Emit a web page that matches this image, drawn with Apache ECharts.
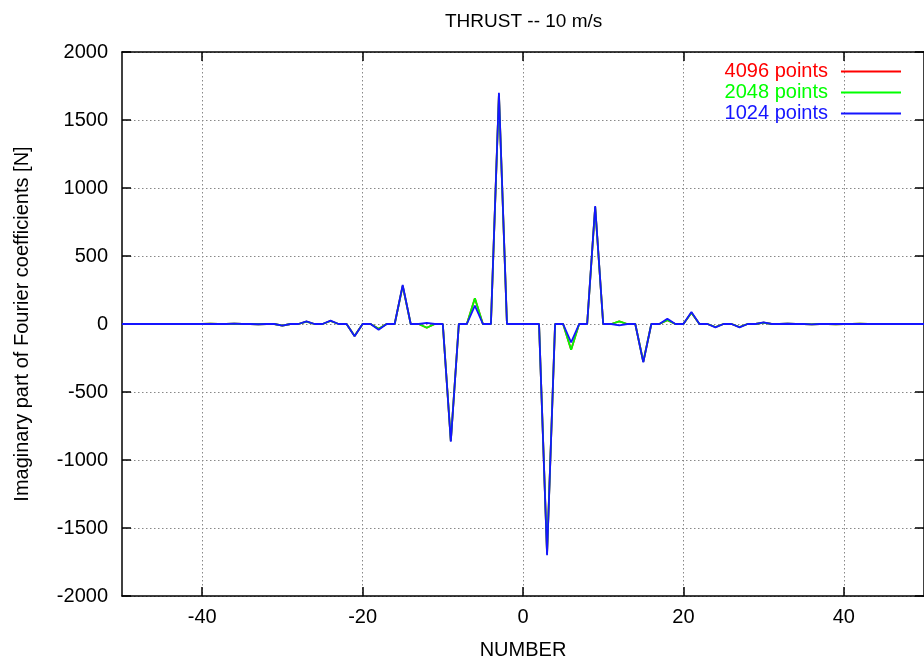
<!DOCTYPE html>
<html>
<head>
<meta charset="utf-8">
<script src="https://cdn.jsdelivr.net/npm/echarts@6/dist/echarts.min.js"></script>
<style>
html,body{margin:0;padding:0;background:#fff;}
#chart{width:924px;height:668px;}
</style>
</head>
<body>
<div id="chart"></div>
<script>
// Harmonic number axis
var xStart = -50, xEnd = 50;
var xTickValues = [-40, -20, 0, 20, 40];
var seriesNames = ['4096 points', '2048 points', '1024 points'];
var seriesColors = ['#ff0000', '#00ff00', '#1515ff'];

// Imaginary part of Fourier coefficients [N], x = -50 ... 50
var pts4096 = [
  0,0,0,0,0,0,0,0,0,0,
  0,3,0,0,3,0,0,-2,0,0,
  -12,0,0,18,0,0,22,0,0,-88,
  0,0,-35,0,0,280,0,0,-28,0,
  0,-860,0,0,190,0,0,1690,0,0,
  0,0,0,-1690,0,0,-190,0,0,860,
  0,0,20,0,0,-278,0,0,28,0,
  0,82,0,0,-22,0,0,-22,0,0,
  10,0,0,3,0,0,-3,0,0,-2,
  0,0,2,0,0,0,0,0,0,0,0
];
var pts2048 = [
  0,0,0,0,0,0,0,0,0,0,
  0,3,0,0,3,0,0,-2,0,0,
  -12,0,0,18,0,0,22,0,0,-88,
  0,0,-35,0,0,280,0,0,-28,0,
  0,-860,0,0,190,0,0,1690,0,0,
  0,0,0,-1690,0,0,-190,0,0,860,
  0,0,20,0,0,-278,0,0,28,0,
  0,82,0,0,-22,0,0,-22,0,0,
  10,0,0,3,0,0,-3,0,0,-2,
  0,0,2,0,0,0,0,0,0,0,0
];
var pts1024 = [
  0,0,0,0,0,0,0,0,0,0,
  0,0,0,0,3,0,0,-2,0,0,
  -12,0,0,20,0,0,25,0,0,-90,
  0,0,-42,0,0,287,0,0,8,0,
  0,-866,0,0,135,0,0,1700,0,0,
  0,0,0,-1700,0,0,-135,0,0,868,
  0,0,-10,0,0,-282,0,0,38,0,
  0,88,0,0,-25,0,0,-25,0,0,
  12,0,0,2,0,0,-3,0,0,0,
  0,0,0,0,0,0,0,0,0,0,0
];

function pairs(vals){
  var out = [];
  for (var i = 0; i < vals.length; i++) out.push([xStart + i, vals[i]]);
  return out;
}

var FONT = 'Liberation Sans';
var chart = echarts.init(document.getElementById('chart'), null, {renderer:'canvas'});
var axisLine = {show:true, onZero:false, lineStyle:{color:'#000', width:1.5}};
var tick = {show:true, inside:true, length:9, lineStyle:{color:'#000', width:1.5}};
var grid = {show:true, lineStyle:{color:'#888', width:1, type:[1.5,2.5]}};
var plain = function(v){ return String(v); };

var dataSets = [pts4096, pts2048, pts1024];
var series = dataSets.map(function(d, i){
  return {
    name: seriesNames[i], type:'line', data: pairs(d),
    showSymbol:false, symbol:'none',
    lineStyle:{color:seriesColors[i], width:1.8},
    itemStyle:{color:seriesColors[i]},
    animation:false
  };
});

chart.setOption({
  animation:false,
  backgroundColor:'#fff',
  title:{
    text:'THRUST -- 10 m/s', left:440, top:7,
    textStyle:{fontFamily:FONT, fontSize:19, fontWeight:'normal', color:'#000'}
  },
  legend:{
    orient:'vertical', right:23, top:61, align:'right', padding:0,
    itemWidth:60, itemHeight:2, itemGap:0, icon:'rect',
    textStyle:{fontFamily:FONT, fontSize:20, lineHeight:21, padding:[0,8,0,0]},
    data: seriesNames.map(function(n, i){
      return {name:n, textStyle:{color:seriesColors[i]}, itemStyle:{color:seriesColors[i]}};
    })
  },
  grid:{left:122, top:52, width:803, height:544, containLabel:false},
  xAxis:[{
    type:'value', min:xStart, max:xEnd, position:'bottom',
    name:'NUMBER', nameLocation:'middle', nameGap:44,
    nameTextStyle:{fontFamily:FONT, fontSize:20, color:'#000'},
    axisLine:axisLine,
    axisTick:Object.assign({customValues:xTickValues}, tick),
    axisLabel:{customValues:xTickValues, margin:11, fontFamily:FONT, fontSize:20, color:'#000', formatter:plain},
    splitLine:grid
  },{
    type:'value', min:xStart, max:xEnd, position:'top',
    axisLine:axisLine,
    axisTick:Object.assign({customValues:xTickValues}, tick),
    axisLabel:{show:false, customValues:xTickValues},
    splitLine:{show:false}
  }],
  yAxis:[{
    type:'value', min:-2000, max:2000, interval:500, position:'left',
    name:'Imaginary part of Fourier coefficients [N]', nameLocation:'middle', nameGap:90,
    nameTextStyle:{fontFamily:FONT, fontSize:20, color:'#000'},
    axisLine:axisLine, axisTick:tick,
    axisLabel:{margin:14, fontFamily:FONT, fontSize:20, color:'#000', formatter:plain},
    splitLine:grid
  },{
    type:'value', min:-2000, max:2000, interval:500, position:'right',
    axisLine:axisLine, axisTick:tick,
    axisLabel:{show:false}, splitLine:{show:false}
  }],
  series: series
});
</script>
</body>
</html>
